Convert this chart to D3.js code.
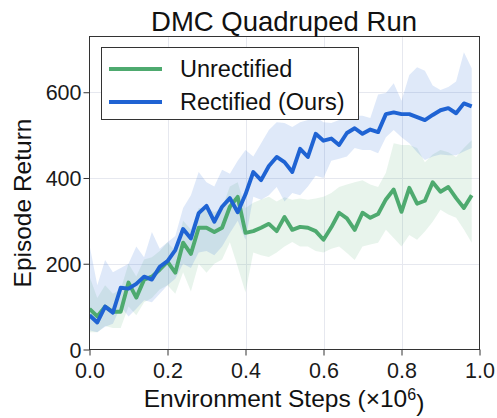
<!DOCTYPE html>
<html>
<head>
<meta charset="utf-8">
<script src="https://cdn.jsdelivr.net/npm/d3@7"></script>
<style>
  html, body { margin: 0; padding: 0; background: #fff; }
  svg { display: block; font-family: Arial, "Liberation Sans", sans-serif; }
</style>
</head>
<body>
<svg id="chart" width="497" height="418"></svg>
<script>
// Training steps (millions), one evaluation every 0.02M steps
const steps = d3.range(50).map(i => +(i * 0.02).toFixed(2));

// Rectified (Ours): mean return and shaded spread
const rectMean = [80,63,100,86,144,142,153,170,163,193,206,232,281,259,318,335,298,333,353,320,
                  362,414,395,428,449,437,414,468,449,503,487,492,477,505,516,503,513,507,549,553,
                  549,549,542,535,547,558,563,551,574,567];
const rectUpper = [244,150,209,180,190,200,240,215,274,235,250,265,330,360,414,390,380,419,410,440,
                   465,450,481,512,530,528,519,530,535,542,530,528,535,550,545,545,540,595,598,621,
                   580,640,658,650,616,605,612,625,693,656];
const rectLower = [45,40,53,60,100,77,95,115,110,130,150,165,200,190,226,230,220,240,272,300,
                   256,356,349,360,379,345,365,360,380,405,400,440,445,450,470,465,465,458,495,512,
                   495,481,460,442,450,455,453,453,462,470];

// Unrectified: mean return and shaded spread
const unrectMean = [95,77,100,88,88,156,121,163,170,186,205,179,249,223,284,284,274,284,333,356,
                    272,276,284,293,276,309,279,286,284,276,256,285,319,306,279,319,307,316,350,373,
                    321,377,340,347,390,368,379,353,330,360];
const unrectUpper = [170,120,150,130,140,200,170,210,215,230,250,230,300,280,330,330,320,330,380,390,
                     330,342,350,356,345,355,349,352,349,352,356,365,379,385,390,395,385,379,412,481,
                     477,477,470,437,455,465,460,449,470,488];
const unrectLower = [40,40,55,50,50,100,80,110,120,140,150,130,180,135,200,179,200,210,250,193,
                     133,226,220,216,226,240,251,240,240,230,226,235,240,225,209,240,245,249,279,260,
                     240,267,256,275,298,326,315,307,280,249];

const xTicks = [0, 0.2, 0.4, 0.6, 0.8, 1.0];
const yTicks = [0, 200, 400, 600];

const seriesNames = ["Unrectified", "Rectified (Ours)"];
const seriesColors = ["#4eaa6f", "#1f63d3"];

const margin = { left: 89.5, right: 17.5, top: 36.5, bottom: 68.5 };
const W = 497, H = 418;
const svg = d3.select("#chart");

const x = d3.scaleLinear().domain([0, 1]).range([margin.left, W - margin.right]);
const y = d3.scaleLinear().domain([0, 730]).range([H - margin.bottom, margin.top]);

// grid
const grid = svg.append("g").attr("stroke", "#e6e8ef").attr("stroke-width", 1);
grid.selectAll(".gx").data(xTicks.slice(1, -1)).join("line")
  .attr("x1", d => Math.round(x(d)) + 0.5).attr("x2", d => Math.round(x(d)) + 0.5)
  .attr("y1", y.range()[1]).attr("y2", y.range()[0]);
grid.selectAll(".gy").data(yTicks.slice(1)).join("line")
  .attr("y1", d => Math.round(y(d)) + 0.5).attr("y2", d => Math.round(y(d)) + 0.5)
  .attr("x1", x.range()[0]).attr("x2", x.range()[1]);

svg.append("clipPath").attr("id", "plotclip").append("rect")
  .attr("x", x.range()[0]).attr("y", y.range()[1])
  .attr("width", x.range()[1] - x.range()[0]).attr("height", y.range()[0] - y.range()[1]);

const plot = svg.append("g").attr("clip-path", "url(#plotclip)");

const bands = [
  { mean: unrectMean, up: unrectUpper, lo: unrectLower, color: seriesColors[0], op: 0.13 },
  { mean: rectMean, up: rectUpper, lo: rectLower, color: seriesColors[1], op: 0.14 }
];

const area = (up, lo) => d3.area()
  .x((d, i) => x(steps[i]))
  .y0((d, i) => y(lo[i]))
  .y1((d, i) => y(up[i]));

bands.forEach(b => {
  plot.append("path").datum(b.mean)
    .attr("d", area(b.up, b.lo))
    .attr("fill", b.color).attr("fill-opacity", b.op).attr("stroke", "none");
});

const line = d3.line().x((d, i) => x(steps[i])).y(d => y(d));
bands.forEach(b => {
  plot.append("path").datum(b.mean)
    .attr("d", line)
    .attr("fill", "none").attr("stroke", b.color)
    .attr("stroke-width", 3.9).attr("stroke-linejoin", "round").attr("stroke-linecap", "butt");
});

// axes
const xAxis = d3.axisBottom(x).tickValues(xTicks).tickFormat(d3.format(".1f")).tickSize(6).tickPadding(2);
const yAxis = d3.axisLeft(y).tickValues(yTicks).tickFormat(d3.format("d")).tickSize(6).tickPadding(2);

const gx = svg.append("g").attr("transform", `translate(0,${y.range()[0]})`).call(xAxis);
const gy = svg.append("g").attr("transform", `translate(${x.range()[0]},0)`).call(yAxis);
[gx, gy].forEach(g => {
  g.select(".domain").remove();
  g.selectAll("line").attr("stroke", "#333").attr("stroke-width", 1);
  g.selectAll("text").attr("fill", "#1a1a1a").style("font-size", "21.5px");
});
gx.selectAll("text").attr("dy", "0.95em");
gy.selectAll("text").attr("dy", "0.35em");

// frame
svg.append("rect")
  .attr("x", x.range()[0]).attr("y", y.range()[1])
  .attr("width", x.range()[1] - x.range()[0]).attr("height", y.range()[0] - y.range()[1])
  .attr("fill", "none").attr("stroke", "#333").attr("stroke-width", 1);

// title and labels
svg.append("text").attr("x", 284).attr("y", 31).attr("text-anchor", "middle")
  .style("font-size", "27.5px").attr("fill", "#111").text("DMC Quadruped Run");

const xl = svg.append("text").attr("x", 284).attr("y", 407).attr("text-anchor", "middle")
  .style("font-size", "24.5px").attr("fill", "#111");
xl.append("tspan").text("Environment Steps (×10");
xl.append("tspan").attr("dy", "-0.45em").style("font-size", "16px").text("6");
xl.append("tspan").attr("dy", "0.45em").text(")");

svg.append("text").attr("transform", "translate(31,203) rotate(-90)").attr("text-anchor", "middle")
  .style("font-size", "24.5px").attr("fill", "#111").text("Episode Return");

// legend
const lg = svg.append("g");
lg.append("rect").attr("x", 101.5).attr("y", 47.5).attr("width", 257).attr("height", 72)
  .attr("fill", "#fff").attr("stroke", "#333").attr("stroke-width", 1);
seriesNames.forEach((name, i) => {
  const yy = 69 + i * 33;
  lg.append("line").attr("x1", 109).attr("x2", 162).attr("y1", yy).attr("y2", yy)
    .attr("stroke", seriesColors[i]).attr("stroke-width", 4);
  lg.append("text").attr("x", 180).attr("y", yy).attr("dy", "0.35em")
    .style("font-size", "23.5px").attr("fill", "#111").text(name);
});
</script>
</body>
</html>
